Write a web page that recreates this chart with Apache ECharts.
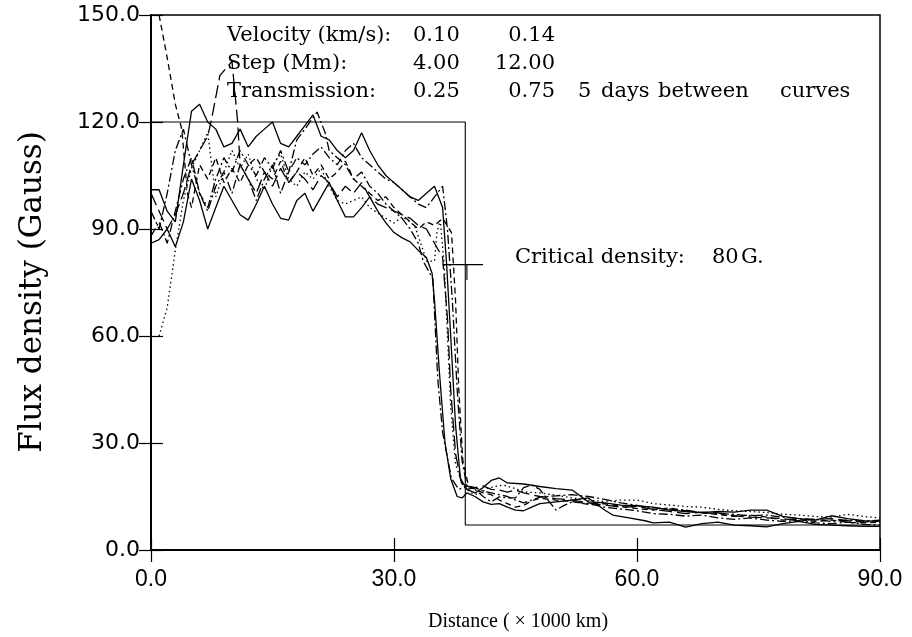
<!DOCTYPE html>
<html>
<head>
<meta charset="utf-8">
<script src="https://cdn.jsdelivr.net/npm/echarts@6/dist/echarts.min.js"></script>
<style>
html,body{margin:0;padding:0;background:#fff;}
#chart{width:912px;height:637px;}
</style>
</head>
<body>
<div id="chart"></div>
<script>
// ---- axis ticks ----
const xTicks = [0, 30, 60, 90];
const yTicks = [0, 30, 60, 90, 120, 150];

// ---- initial step profile (x in 1000 km, flux in G) ----
const stepProfile = [[0,120],[38.8,120],[38.8,7],[90,7]];
// ---- critical density marker (80 G) ----
const criticalLine = [[36,80],[41,80]];
const criticalTick = [[39,80],[39,75.7]];

// ---- curves, 5 days apart ----
const curveA = [[0,101],[1,101],[2,95],[3,92],[4,108],[5,123],[6,125],[7,120],[8,118],[9,113],[10,114],[11,118],[12,113],[13,116],[14,118],[15,120],[16,114],[17,113],[18,116],[19,119],[20,122],[21,116],[22,115],[23,112],[24,110],[25,112],[26,117],[27,112],[28,108],[29,105],[30,103],[31,101],[32,99],[33,98],[34,100],[35,102],[36,96],[36.5,80],[37,60],[37.6,35],[38.2,20],[39,17],[40,16],[41,17.5],[42,19.5],[43,20.2],[44,18.8],[46,18.5],[48,17.8],[50,17.2],[52,16.8],[54,13.5],[56,13.2],[58,12.6],[60,12.4],[62,12],[64,11.2],[66,10.8],[68,10.5],[70,10.8],[72,10.6],[74,11.2],[76,11.2],[78,9.4],[80,8.8],[82,8.4],[84,9.6],[86,8.8],[88,8.2],[90,8]];
const curveB = [[0,88],[1,92],[2,86],[3,95],[4,104],[5,110],[6,100],[7,95],[8,102],[9,106],[10,100],[11,108],[12,104],[13,98],[14,104],[15,108],[16,100],[17,106],[18,115],[19,118],[20.5,122.8],[21.5,117],[22,112],[23,110],[24,108],[25,104],[26,106],[27,102],[28,100],[29,97],[30,95],[31,93],[32,90],[33,86],[33.6,81],[34.8,76],[35.4,48],[36,33],[37.1,20],[38,17],[39,18],[40,17],[41,15],[42,13.5],[43,14.9],[44,14.6],[45,14.6],[46,17.5],[47,18.2],[48,17],[49,14],[50,11.2],[51,12.5],[52,13.5],[54,13],[56,12],[58,11.5],[60,11],[62,10.2],[64,10],[66,9.5],[68,9.8],[70,9],[72,8.6],[74,9],[76,8.4],[78,8],[80,8.2],[82,7.6],[84,7.4],[86,7.8],[88,7.2],[90,7]];
const curveC = [[1,150],[2,138],[3,125],[3.8,118],[4.5,100],[5,96],[6,108],[7,104],[8,110],[9,103],[10,107],[11,103],[12,108],[13,110],[14,106],[15,104],[16,109],[17,103],[18,106],[19,110],[20,105],[21,108],[22,104],[23,106],[24,109],[25,104],[26,102],[27,100],[28,98],[29,99],[30,96],[31,94],[32,92],[33,90],[34,92],[35,91],[36,93],[37.1,89],[37.6,70],[38,45],[38.5,25],[39.2,18],[40,17],[41,16],[42,15.5],[43,14],[44,13],[45,12],[46,12.5],[47,13.8],[48,14.5],[50,14],[52,13.6],[54,12.8],[56,13],[58,12.2],[60,11.6],[62,11.2],[64,11.8],[66,11],[68,10.4],[70,10],[72,9.4],[74,9.8],[76,9.2],[78,8.4],[80,8.6],[82,8],[84,8.4],[86,7.8],[88,7.6],[90,7.8]];
const curveD = [[1,60],[2,68],[3,84],[4,98],[5,107],[6,112],[7,117],[8,99],[9,106],[10,112],[11,107],[12,111],[13,104],[14,101],[15,108],[16,111],[17,104],[18,102],[19,106],[20,104],[21,107],[22,102],[23,98],[24,97],[25,98],[26,99],[27,96],[28,94.5],[29,93],[30,91.7],[31,93.4],[32,92],[32.6,90.6],[33.6,84],[34,81],[35,81],[35.3,89],[35.7,92.5],[36.2,80],[36.6,60],[37,40],[37.6,24],[38.5,18],[39.5,16],[40.5,15.5],[41.5,17.3],[42.5,17.8],[43.5,18.2],[45,17.2],[46,16.3],[48,16],[50,15.4],[52,14.6],[54,14],[56,13.6],[58,14],[60,14],[62,13],[64,12.6],[66,12.2],[68,12],[70,11.4],[72,11],[74,10.8],[76,10.5],[78,10],[80,9.8],[82,9.4],[84,9.2],[86,10],[88,9.4],[90,9]];
const curveE = [[0,95],[1,90],[2,100],[3,112],[4,118],[5,108],[6,100],[7,96],[8,104],[9,110],[10,106],[11,112],[12,108],[13,105],[14,110],[15,107],[16,112],[17,106],[18,110],[19,108],[20,111],[21,113],[22,110],[23,108],[24,112],[25,114],[26,110],[27,108],[28,106],[29,104],[30,103],[31,101],[32,99],[33,97],[34,96],[35,99],[36,102],[36.6,90],[37.2,70],[37.8,45],[38.4,25],[39,18],[40,17.5],[41,16.5],[42,16],[43,15.5],[44,15],[45,14],[46,13.2],[48,14.8],[50,15.2],[52,15.5],[54,15],[56,14.2],[58,13.2],[60,12.5],[62,11.8],[64,11.5],[66,11.2],[68,10.4],[70,10.2],[72,10],[74,9.6],[76,9.8],[78,9.2],[80,8.8],[82,8.6],[84,8],[86,8.4],[88,8],[90,8.4]];
const curveF = [[0,100],[1,95],[2,90],[3,94],[4,100],[5,108],[6,112],[7,116],[7.5,121],[8.5,133],[10,137],[10.7,120],[11,108],[12,104],[13,100],[14,106],[15,102],[16,107],[17,103],[18,106],[19,104],[20,101],[21,105],[22,103],[23,99],[24,102],[25,100],[26,103],[27,99],[28,97],[29,96],[30,95],[31,94],[32,93],[33,91],[34,90],[35,86],[36,82],[36.6,65],[37,45],[37.6,27],[38.3,19],[39,17],[40,17.5],[41,18],[42,17],[43,16.8],[44,16.2],[45,16.8],[46,16],[48,15],[50,14.4],[52,14],[54,13.2],[56,12.6],[58,12],[60,12.2],[62,11.4],[64,10.8],[66,10.2],[68,10.6],[70,10.4],[72,9.6],[74,9.2],[76,9],[78,8.8],[80,8.2],[82,8.6],[84,8.8],[86,8.2],[88,7.8],[90,8.2]];
const curveG = [[0,86],[1,87],[2,90],[3,85],[4,92],[5,104],[6,98],[7,90],[8,96],[9,102],[10,98],[11,94],[12,92.5],[13,97],[14,102],[15,97],[16,93],[17,92.5],[18,98],[19,100],[20,95],[21,99],[22,103],[23,98],[24,93.4],[25,93.4],[26,96],[27,99],[28,95],[29,91.7],[30,89],[31,87.5],[32,86.4],[33,84],[34,82],[34.7,77.6],[35,70],[35.6,50],[36.3,30],[37,20],[37.8,15],[38.4,14.6],[39,16],[40,15],[41,13.5],[42,12.8],[43,13],[44,12],[45,11.2],[46,11],[47,12],[48,13],[50,13.5],[52,14],[54,14.6],[56,11.2],[57,9.8],[59,9],[61,8.2],[62,7.6],[64,7.8],[66,6.4],[68,7.4],[70,7.8],[72,7],[74,6.8],[76,6.5],[78,7.4],[80,8],[82,7.2],[84,7],[86,6.8],[88,6.6],[90,6.6]];

const curves = [
  {data: curveA, dash: 'solid'},
  {data: curveB, dash: [9,3,2,3]},
  {data: curveC, dash: [6,4]},
  {data: curveD, dash: [1.5,3]},
  {data: curveE, dash: [9,3,2,3]},
  {data: curveF, dash: [13,5]},
  {data: curveG, dash: 'solid'}
];

const chart = echarts.init(document.getElementById('chart'), null, {renderer: 'canvas'});

const serifF = '"DejaVu Serif", serif';
function txt(s, x, y, align, size, font) {
  return {type: 'text', x: x, y: y, z: 100,
    style: {text: s, x: 0, y: 0, align: align || 'left', verticalAlign: 'middle',
      font: (size || 21) + 'px ' + (font || serifF), fill: '#000'}};
}

const series = curves.map(c => ({
  type: 'line', data: c.data, showSymbol: false, silent: true,
  lineStyle: {color: '#000', width: 1.3, type: c.dash}, z: 3
}));
series.push({type: 'line', data: stepProfile, showSymbol: false, silent: true,
  lineStyle: {color: '#000', width: 1.1}, z: 2});
series.push({type: 'line', data: criticalLine, showSymbol: false, silent: true,
  lineStyle: {color: '#000', width: 1.1}, z: 2});
series.push({type: 'line', data: criticalTick, showSymbol: false, silent: true,
  lineStyle: {color: '#000', width: 1.1}, z: 2});

const axisCommon = {
  type: 'value', splitLine: {show: false},
  axisLine: {show: true, lineStyle: {color: '#000', width: 1.8}},
  axisTick: {show: true, inside: true, length: 12, lineStyle: {color: '#000', width: 1.2}}
};

chart.setOption({
  animation: false,
  backgroundColor: '#fff',
  grid: {left: 151, right: 32, top: 15, bottom: 87, show: true, borderColor: '#000', borderWidth: 1.5},
  xAxis: [
    Object.assign({}, axisCommon, {min: 0, max: 90, interval: 30, position: 'bottom',
      axisLabel: {margin: 18, fontFamily: '"Liberation Sans", Arial, sans-serif', fontSize: 23, color: '#000',
        formatter: v => xTicks.indexOf(v) >= 0 ? v.toFixed(1) : ''}}),
    Object.assign({}, axisCommon, {min: 0, max: 90, interval: 30, position: 'top',
      axisLabel: {show: false}})
  ],
  yAxis: [
    Object.assign({}, axisCommon, {min: 0, max: 150, interval: 30, position: 'left',
      axisLabel: {margin: 11, fontFamily: '"DejaVu Sans", sans-serif', fontSize: 22, color: '#000',
        formatter: v => yTicks.indexOf(v) >= 0 ? v.toFixed(1) : ''}}),
    Object.assign({}, axisCommon, {min: 0, max: 150, interval: 30, position: 'right',
      axisLabel: {show: false}})
  ],
  series: series,
  graphic: [
    txt('Velocity (km/s):', 227, 36),
    txt('0.10', 413, 36),
    txt('0.14', 555, 36, 'right'),
    txt('Step (Mm):', 227, 64),
    txt('4.00', 413, 64),
    txt('12.00', 555, 64, 'right'),
    txt('Transmission:', 227, 92),
    txt('0.25', 413, 92),
    txt('0.75', 555, 92, 'right'),
    txt('5', 578, 92),
    txt('days', 601, 92),
    txt('between', 658, 92),
    txt('curves', 780, 92),
    txt('Critical density:', 515, 258),
    txt('80', 712, 258),
    txt('G.', 741, 258),
    {type: 'text', x: 33, y: 292, rotation: Math.PI / 2, z: 100,
      style: {text: 'Flux density (Gauss)', x: 0, y: 0, align: 'center', verticalAlign: 'middle',
        font: '31px ' + serifF, fill: '#000'}},
    txt('Distance ( \u00d7 1000 km)', 518, 622, 'center', 20, '"Liberation Serif", "Times New Roman", serif')
  ]
});
</script>
</body>
</html>
